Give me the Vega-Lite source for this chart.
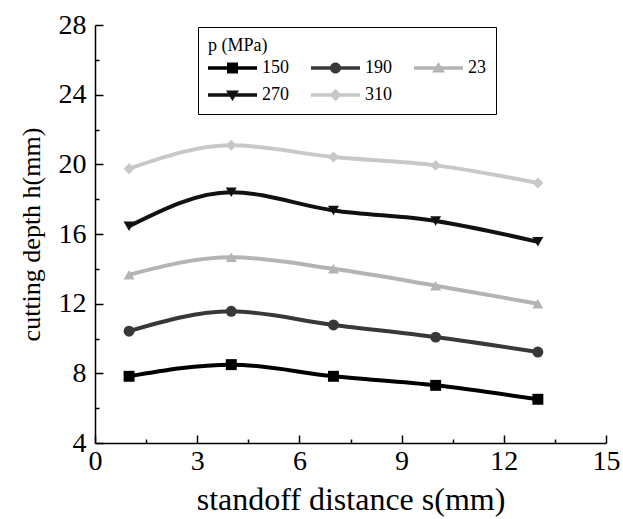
{
  "$schema": "https://vega.github.io/schema/vega-lite/v6.json",
  "width": 511,
  "height": 418,
  "autosize": {"type": "none"},
  "padding": {"left": 95, "top": 25, "right": 17, "bottom": 76},
  "background": "white",
  "config": {
    "view": {"stroke": null},
    "font": "Liberation Serif",
    "axis": {
      "domainColor": "black",
      "domainWidth": 1.5,
      "tickColor": "black",
      "tickWidth": 1.5,
      "grid": false,
      "labelFont": "Liberation Serif",
      "labelFontSize": 28,
      "labelColor": "black",
      "titleFont": "Liberation Serif",
      "titleFontWeight": "normal",
      "titleColor": "black",
      "labelFlush": false,
      "labelOverlap": false
    },
    "legend": {
      "orient": "none",
      "legendX": 103,
      "legendY": 2,
      "direction": "horizontal",
      "columns": 3,
      "strokeColor": "black",
      "fillColor": "white",
      "padding": 10,
      "columnPadding": 3,
      "rowPadding": 8,
      "symbolSize": 400,
      "symbolStrokeWidth": 0,
      "symbolOpacity": 1,
      "labelOffset": 34,
      "labelFont": "Liberation Serif",
      "labelFontSize": 18,
      "labelColor": "black",
      "titleFont": "Liberation Serif",
      "titleFontSize": 18,
      "titleFontWeight": "normal",
      "titleColor": "black",
      "titlePadding": 3
    }
  },
  "data": {
    "values": [
      {"p": "150", "s": 1, "h": 7.83},
      {"p": "150", "s": 4, "h": 8.5},
      {"p": "150", "s": 7, "h": 7.83},
      {"p": "150", "s": 10, "h": 7.31},
      {"p": "150", "s": 13, "h": 6.51},
      {"p": "190", "s": 1, "h": 10.42},
      {"p": "190", "s": 4, "h": 11.56},
      {"p": "190", "s": 7, "h": 10.78},
      {"p": "190", "s": 10, "h": 10.08},
      {"p": "190", "s": 13, "h": 9.22},
      {"p": "23", "s": 1, "h": 13.66},
      {"p": "23", "s": 4, "h": 14.67},
      {"p": "23", "s": 7, "h": 14.0},
      {"p": "23", "s": 10, "h": 13.03},
      {"p": "23", "s": 13, "h": 12.0},
      {"p": "270", "s": 1, "h": 16.45},
      {"p": "270", "s": 4, "h": 18.4},
      {"p": "270", "s": 7, "h": 17.35},
      {"p": "270", "s": 10, "h": 16.75},
      {"p": "270", "s": 13, "h": 15.55},
      {"p": "310", "s": 1, "h": 19.75},
      {"p": "310", "s": 4, "h": 21.09},
      {"p": "310", "s": 7, "h": 20.42},
      {"p": "310", "s": 10, "h": 19.94},
      {"p": "310", "s": 13, "h": 18.93}
    ]
  },
  "encoding": {
    "x": {
      "field": "s",
      "type": "quantitative",
      "scale": {"domain": [0, 15], "nice": false, "zero": false},
      "axis": {
        "title": "standoff distance s(mm)",
        "titleFontSize": 32,
        "values": [0, 1.5, 3, 4.5, 6, 7.5, 9, 10.5, 12, 13.5, 15],
        "labelExpr": "datum.value % 3 === 0 ? datum.label : ''",
        "tickSize": {"condition": {"test": "datum.value % 3 === 0", "value": -8}, "value": -4},
        "labelPadding": 12,
        "titlePadding": 5
      }
    },
    "y": {
      "field": "h",
      "type": "quantitative",
      "scale": {"domain": [4, 28], "nice": false, "zero": false},
      "axis": {
        "title": "cutting depth h(mm)",
        "titleFontSize": 26,
        "values": [4, 6, 8, 10, 12, 14, 16, 18, 20, 22, 24, 26, 28],
        "labelExpr": "datum.value % 4 === 0 ? datum.label : ''",
        "tickSize": {"condition": {"test": "datum.value % 4 === 0", "value": -8}, "value": -4},
        "labelPadding": 17,
        "titlePadding": 14
      }
    }
  },
  "resolve": {"scale": {"color": "independent", "shape": "independent"}},
  "layer": [
    {
      "mark": {"type": "line", "interpolate": "monotone", "strokeWidth": 4},
      "encoding": {
        "color": {
          "field": "p",
          "type": "nominal",
          "scale": {"domain": ["150", "190", "23", "270", "310"], "range": ["#000000", "#383838", "#b4b4b4", "#111111", "#c8c8c8"]},
          "legend": null
        }
      }
    },
    {
      "mark": {"type": "point", "filled": true, "opacity": 1, "size": 120},
      "encoding": {
        "color": {
          "field": "p",
          "type": "nominal",
          "scale": {"domain": ["150", "190", "23", "270", "310"], "range": ["#000000", "#383838", "#b4b4b4", "#111111", "#c8c8c8"]},
          "legend": null
        },
        "shape": {
          "field": "p",
          "type": "nominal",
          "scale": {"domain": ["150", "190", "23", "270", "310"], "range": ["square", "circle", "triangle-up", "triangle-down", "diamond"]},
          "legend": null
        }
      }
    },
    {
      "mark": {"type": "point", "filled": true, "opacity": 0, "size": 1},
      "encoding": {
        "color": {
          "field": "p",
          "type": "nominal",
          "scale": {"domain": ["150", "190", "23", "270", "310"], "range": ["#000000", "#383838", "#b4b4b4", "#111111", "#c8c8c8"]},
          "legend": {"title": "p (MPa)"}
        },
        "shape": {
          "field": "p",
          "type": "nominal",
          "scale": {"domain": ["150", "190", "23", "270", "310"], "range": [
            "M-2.9,0L-2.89,0M-1,-0.17H3.9V0.17H-1ZM0.9,-0.55H2V0.55H0.9Z",
            "M-2.9,0L-2.89,0M-1,-0.17H3.9V0.17H-1ZM0.9,0A0.55,0.55 0 1,1 2,0A0.55,0.55 0 1,1 0.9,0Z",
            "M-2.9,0L-2.89,0M-1,-0.17H3.9V0.17H-1ZM1.45,-0.6L2.1,0.45L0.8,0.45Z",
            "M-2.9,0L-2.89,0M-1,-0.17H3.9V0.17H-1ZM1.45,0.6L0.8,-0.45L2.1,-0.45Z",
            "M-2.9,0L-2.89,0M-1,-0.17H3.9V0.17H-1ZM1.45,-0.62L2.05,0L1.45,0.62L0.85,0Z"
          ]},
          "legend": {"title": "p (MPa)"}
        }
      }
    }
  ]
}
